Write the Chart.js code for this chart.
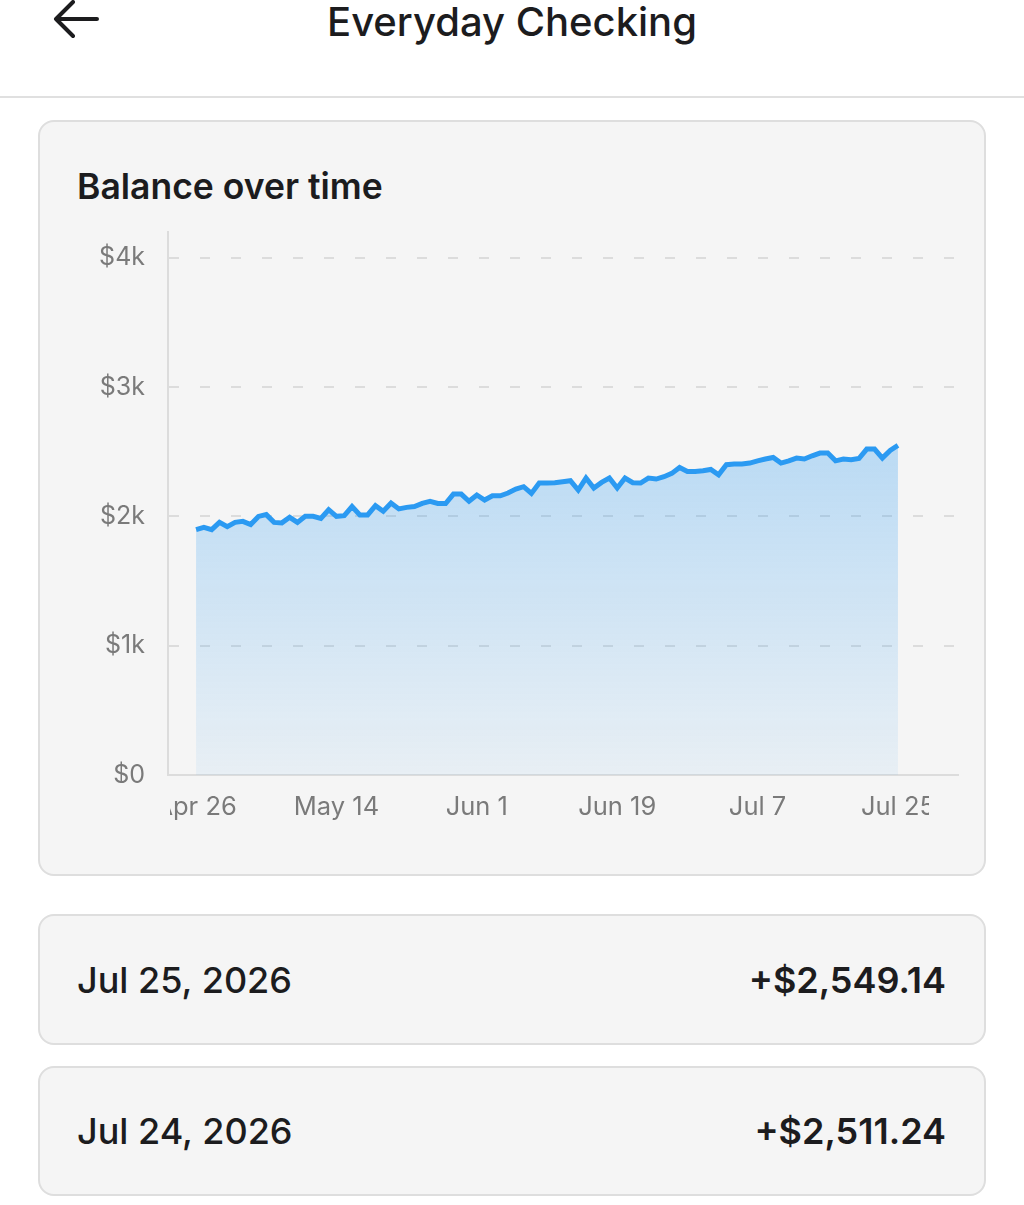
<!DOCTYPE html>
<html>
<head>
<meta charset="utf-8">
<script src="https://cdn.jsdelivr.net/npm/chart.js@4/dist/chart.umd.min.js"></script>
<style>
  body { margin: 0; background: #fff; font-family: Inter, "Noto Sans", sans-serif; color: #1c1c1e; }
  .page { position: relative; width: 1024px; height: 1205px; overflow: hidden; }
  .title { position: absolute; left: 0; width: 1024px; top: 2px; text-align: center; font-size: 40px; line-height: 40px; font-weight: 500; }
  .back { position: absolute; left: 0; top: 0; }
  .divider { position: absolute; left: 0; top: 96px; width: 1024px; height: 2px; background: #e0e0e0; }
  .card { position: absolute; left: 38px; width: 948px; box-sizing: border-box; background: #f5f5f5; border: 2px solid #dedede; border-radius: 16px; }
  .chartTitle { position: absolute; left: 37px; top: 48px; font-size: 35.5px; line-height: 34px; font-weight: 600; }
  .chartBox { position: absolute; left: 0; top: 93px; width: 944px; height: 635px; }
  .row { display: flex; justify-content: space-between; align-items: center; padding: 0 38px 0 37px; font-size: 36px; }
  .row .d { font-weight: 500; }
  .row .v { font-weight: 600; }
</style>
</head>
<body>
<div class="page">
  <svg class="back" width="110" height="50">
    <path d="M97 19 H56 M73 2 L56 19 L73 36" fill="none" stroke="#1c1c1e" stroke-width="4" stroke-linecap="round" stroke-linejoin="round"/>
  </svg>
  <div class="title">Everyday Checking</div>
  <div class="divider"></div>

  <div class="card" style="top:120px;height:756px;">
    <div class="chartTitle">Balance over time</div>
    <div class="chartBox"><canvas id="myChart"></canvas></div>
  </div>

  <div class="card row" style="top:914px;height:131px;">
    <span class="d">Jul 25, 2026</span><span class="v">+$2,549.14</span>
  </div>
  <div class="card row" style="top:1066px;height:130px;">
    <span class="d">Jul 24, 2026</span><span class="v">+$2,511.24</span>
  </div>
</div>

<script>
// daily balance, Apr 26 .. Jul 25 (day 0 .. 90)
const balances = [
  1898, 1916, 1898, 1954, 1921, 1954, 1962, 1937, 2000, 2014, 1954, 1950,
  1993, 1954, 2001, 2001, 1985, 2052, 2001, 2006, 2076, 2012, 2012, 2083,
  2040, 2104, 2058, 2070, 2076, 2101, 2117, 2100, 2100, 2173, 2173, 2117,
  2166, 2127, 2160, 2160, 2181, 2212, 2230, 2178, 2258, 2258, 2261,
  2268, 2276, 2204, 2297, 2220, 2263, 2297, 2220, 2297, 2261, 2258, 2297,
  2289, 2307, 2333, 2379, 2348, 2348, 2353, 2363, 2322, 2400, 2405,
  2405, 2413, 2430, 2444, 2456, 2413, 2430, 2451, 2444, 2469, 2490, 2490,
  2430, 2444, 2438, 2448, 2521, 2521, 2451, 2511, 2549
];
const tickDays = [0, 18, 36, 54, 72, 90];
const tickLabels = ['Apr 26', 'May 14', 'Jun 1', 'Jun 19', 'Jul 7', 'Jul 25'];
const yTicks = [0, 1000, 2000, 3000, 4000];

const points = balances.map((v, i) => ({ x: i, y: v }));
const cardBg = '#f5f5f5';
const tickColor = '#7a7a7a';

// the original clips the outer date labels at the card edges
const clipLabels = {
  id: 'clipLabels',
  afterDraw(chart) {
    const { ctx, chartArea } = chart;
    ctx.save();
    ctx.fillStyle = cardBg;
    ctx.fillRect(0, chartArea.bottom + 8, chartArea.left + 2, 60);
    ctx.fillRect(chartArea.right - 29, chartArea.bottom + 8, 60, 60);
    ctx.restore();
  }
};

function noPadding(s) {
  s.paddingTop = 0;
  s.paddingBottom = 0;
  s.paddingLeft = 0;
  s.paddingRight = 0;
}

const ctx = document.getElementById('myChart').getContext('2d');
new Chart(ctx, {
  type: 'line',
  data: {
    datasets: [{
      data: points,
      borderColor: '#2b9af2',
      borderWidth: 5,
      pointRadius: 0,
      tension: 0,
      fill: 'origin',
      backgroundColor: function(context) {
        const chart = context.chart;
        const area = chart.chartArea;
        if (!area) return 'rgba(33,150,243,0.2)';
        const top = chart.scales.y.getPixelForValue(2600);
        const g = chart.ctx.createLinearGradient(0, top, 0, area.bottom);
        g.addColorStop(0, 'rgba(33,150,243,0.28)');
        g.addColorStop(1, 'rgba(33,150,243,0.06)');
        return g;
      }
    }]
  },
  options: {
    responsive: true,
    maintainAspectRatio: false,
    animation: false,
    layout: { padding: { top: 17, right: 26, left: 0, bottom: 0 } },
    plugins: { legend: { display: false }, tooltip: { enabled: false } },
    scales: {
      x: {
        type: 'linear',
        min: -3.6,
        max: 97.7,
        afterFit: s => { s.height = 75; noPadding(s); },
        afterBuildTicks: s => { s.ticks = tickDays.map(v => ({ value: v })); },
        grid: { display: false, drawTicks: false },
        border: { display: true, color: '#dcdcdc', width: 2 },
        ticks: {
          autoSkip: false,
          maxRotation: 0,
          padding: 17,
          color: tickColor,
          font: { family: 'Inter', size: 25.5 },
          callback: v => tickLabels[tickDays.indexOf(v)]
        }
      },
      y: {
        min: 0,
        max: 4200,
        afterFit: s => { s.width = 128; noPadding(s); },
        afterBuildTicks: s => { s.ticks = yTicks.map(v => ({ value: v })); },
        grid: {
          drawTicks: false,
          lineWidth: 2,
          color: c => (c.tick && c.tick.value === 0) ? 'rgba(0,0,0,0)' : '#dcdcdc'
        },
        border: { display: true, color: '#dcdcdc', width: 2, dash: [10, 21] },
        ticks: {
          padding: 23,
          color: tickColor,
          font: { family: 'Inter', size: 25 },
          callback: v => v === 0 ? '$0' : '$' + (v / 1000) + 'k'
        }
      }
    }
  },
  plugins: [clipLabels]
});
</script>
</body>
</html>
